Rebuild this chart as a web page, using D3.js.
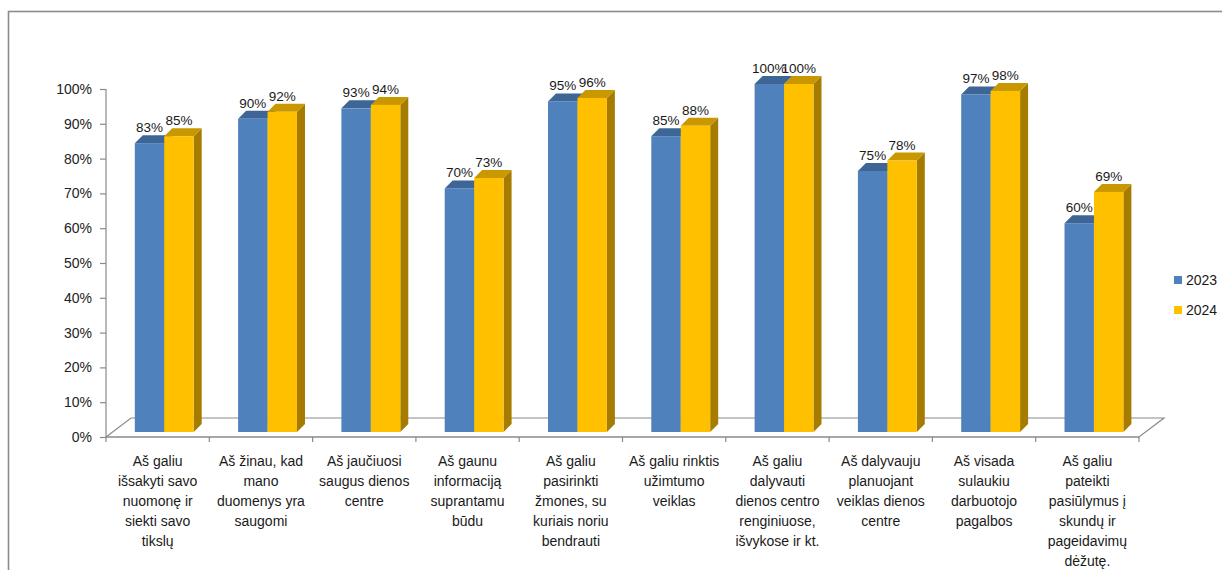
<!DOCTYPE html>
<html>
<head>
<meta charset="utf-8">
<script src="https://cdn.jsdelivr.net/npm/d3@7/dist/d3.min.js"></script>
<style>
  html, body { margin: 0; padding: 0; background: #fff; }
  svg { display: block; font-family: "Liberation Sans", Arial, sans-serif; }
</style>
</head>
<body>
<svg id="chart" width="1222" height="570"></svg>
<script>
// Survey statements (split into the lines shown under each column pair)
const categoryLines = [
  ["Aš galiu", "išsakyti savo", "nuomonę ir", "siekti savo", "tikslų"],
  ["Aš žinau, kad", "mano", "duomenys yra", "saugomi"],
  ["Aš jaučiuosi", "saugus dienos", "centre"],
  ["Aš gaunu", "informaciją", "suprantamu", "būdu"],
  ["Aš galiu", "pasirinkti", "žmones, su", "kuriais noriu", "bendrauti"],
  ["Aš galiu rinktis", "užimtumo", "veiklas"],
  ["Aš galiu", "dalyvauti", "dienos centro", "renginiuose,", "išvykose ir kt."],
  ["Aš dalyvauju", "planuojant", "veiklas dienos", "centre"],
  ["Aš visada", "sulaukiu", "darbuotojo", "pagalbos"],
  ["Aš galiu", "pateikti", "pasiūlymus į", "skundų ir", "pageidavimų", "dėžutę."]
];
const categories = categoryLines.map(l => l.join(" "));

const seriesNames = ["2023", "2024"];
const values2023 = [83, 90, 93, 70, 95, 85, 100, 75, 97, 60];
const values2024 = [85, 92, 94, 73, 96, 88, 100, 78, 98, 69];
const yTicks = [0, 10, 20, 30, 40, 50, 60, 70, 80, 90, 100];

const seriesValues = [values2023, values2024];
const colors = {
  front: ["#4f81bd", "#ffc000"],
  top:   ["#3d6696", "#c99700"],
  side:  ["#365b87", "#a57c00"]
};

const svg = d3.select("#chart");

// outer frame
svg.append("rect")
  .attr("x", 8.5).attr("y", 11.5)
  .attr("width", 1400).attr("height", 700)
  .attr("fill", "none").attr("stroke", "#8c8c8c").attr("stroke-width", 1.6);

const x0 = 106, x1 = 1139, yBase = 437, yTop = 89;
const x = d3.scaleBand().domain(categories).range([x0, x1])
  .paddingInner(0.43).paddingOuter(0.215);
const xs = d3.scaleBand().domain(seriesNames).range([0, x.bandwidth()]);
const y = d3.scaleLinear().domain([0, 100]).range([yBase, yTop]);

// floor depth and column depth offsets
const floorDx = 25, floorDy = -19;
const barShiftX = 6.6, barShiftY = -5;
const depthX = 8, depthY = -8;

const axisColor = "#8a8a8a";

// floor
svg.append("path")
  .attr("d", `M${x0},${yBase} L${x0 + floorDx},${yBase + floorDy} L${x1 + floorDx},${yBase + floorDy} L${x1},${yBase} Z`)
  .attr("fill", "#fff").attr("stroke", axisColor).attr("stroke-width", 1.2);

// value axis
const yAxisG = svg.append("g").attr("transform", `translate(${x0},0)`)
  .call(d3.axisLeft(y).tickValues(yTicks).tickFormat(d => d + "%").tickSize(6).tickPadding(8));
yAxisG.select(".domain").attr("stroke", axisColor).attr("stroke-width", 1.2)
  .attr("d", `M0,${yTop}V${yBase}`);
yAxisG.selectAll(".tick line").attr("stroke", axisColor).attr("stroke-width", 1.2);
yAxisG.selectAll(".tick text").attr("font-size", 14).attr("fill", "#222")
  .attr("font-family", "'Liberation Sans', Arial, sans-serif");

// category axis (front floor edge)
const xAxisG = svg.append("g").attr("transform", `translate(0,${yBase})`);
xAxisG.append("line").attr("x1", x0).attr("x2", x1).attr("y1", 0).attr("y2", 0)
  .attr("stroke", axisColor).attr("stroke-width", 1.2);
const bounds = categories.map(c => x(c) - x.step() * x.paddingInner() / 2).concat([x1]);
bounds[0] = x0;
xAxisG.selectAll("line.tk").data(bounds).join("line").attr("class", "tk")
  .attr("x1", d => d).attr("x2", d => d).attr("y1", 0).attr("y2", 5)
  .attr("stroke", axisColor).attr("stroke-width", 1.2);

// category labels
const labelG = svg.append("g");
categoryLines.forEach((lines, i) => {
  const cx = x(categories[i]) + x.bandwidth() / 2;
  const t = labelG.append("text").attr("x", cx).attr("y", 466)
    .attr("text-anchor", "middle").attr("font-size", 14).attr("fill", "#1a1a1a");
  lines.forEach((ln, j) => {
    t.append("tspan").attr("x", cx).attr("dy", j === 0 ? 0 : 20).text(ln);
  });
});

// 3D columns
const barsG = svg.append("g").attr("transform", `translate(${barShiftX},${barShiftY})`);
categories.forEach((c, i) => {
  seriesNames.forEach((s, k) => {
    const v = seriesValues[k][i];
    const bx = x(c) + xs(s), bw = xs.bandwidth();
    const yt = y(v), yb = y(0);
    const g = barsG.append("g");
    // right side
    g.append("path")
      .attr("d", `M${bx + bw},${yt} L${bx + bw + depthX},${yt + depthY} L${bx + bw + depthX},${yb + depthY} L${bx + bw},${yb} Z`)
      .attr("fill", colors.side[k]);
    // top
    g.append("path")
      .attr("d", `M${bx},${yt} L${bx + depthX},${yt + depthY} L${bx + bw + depthX},${yt + depthY} L${bx + bw},${yt} Z`)
      .attr("fill", colors.top[k]);
    // front
    g.append("rect").attr("x", bx).attr("y", yt).attr("width", bw).attr("height", yb - yt)
      .attr("fill", colors.front[k]);
  });
});

// value labels
categories.forEach((c, i) => {
  seriesNames.forEach((s, k) => {
    const v = seriesValues[k][i];
    const cx = x(c) + xs(s) + xs.bandwidth() / 2 + barShiftX;
    svg.append("text").attr("x", cx).attr("y", y(v) + barShiftY - 11)
      .attr("text-anchor", "middle").attr("font-size", 13.5).attr("fill", "#1a1a1a")
      .text(v + "%");
  });
});

// legend
const legend = svg.append("g");
seriesNames.forEach((s, k) => {
  const ly = 280 + k * 30;
  legend.append("rect").attr("x", 1174).attr("y", ly - 4).attr("width", 8).attr("height", 8)
    .attr("fill", colors.front[k]);
  legend.append("text").attr("x", 1186).attr("y", ly).attr("dy", "0.35em")
    .attr("font-size", 14).attr("fill", "#1a1a1a").text(s);
});
</script>
</body>
</html>
